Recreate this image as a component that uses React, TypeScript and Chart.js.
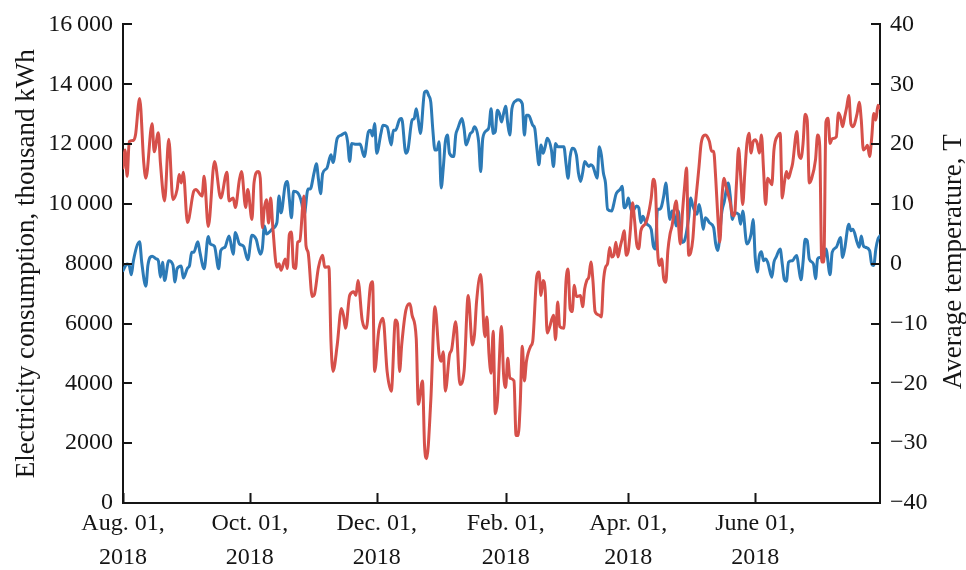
import React, { useEffect, useRef } from 'react';
import { Chart, registerables } from 'chart.js';

Chart.register(...registerables);

// x positions are days since Aug. 01, 2018
const xTickDays = [0, 61, 122, 184, 243, 304];
const xTickLabels = [
  ['Aug. 01,', '2018'],
  ['Oct. 01,', '2018'],
  ['Dec. 01,', '2018'],
  ['Feb. 01,', '2018'],
  ['Apr. 01,', '2018'],
  ['June 01,', '2018'],
];
const leftTitle = 'Electricity consumption, thousand kWh';
const rightTitle = 'Average temperature, T';

// [day, average temperature]
const temperature: [number, number][] = [
  [0, 16.0], [1, 19.0], [2, 14.6], [3, 20.4], [5, 20.6], [6, 21.5], [8, 27.6], [10, 16.8], [11, 14.3], [14, 23.4],
  [15, 18.7], [17, 21.9], [18, 16.8], [20, 10.5], [22, 20.8], [24, 10.7], [26, 12.4], [27, 14.9], [28, 13.5], [29, 15.3],
  [31, 6.9], [34, 12.1], [35, 12.4], [38, 11.3], [39, 14.6], [41, 6.2], [44, 17.1], [47, 11.0], [50, 15.3], [51, 10.5],
  [53, 11.0], [54, 9.4], [56, 14.1], [57, 15.4], [59, 9.4], [60, 12.4], [62, 7.4], [63, 13.5], [65, 15.4], [66, 14.3],
  [67, 6.0], [68, 9.4], [69, 10.7], [70, 6.8], [71, 11.0], [72, 6.3], [74, -0.6], [75, 0.0], [76, -1.1], [78, 0.8],
  [79, -0.8], [80, 4.9], [81, 5.3], [82, -0.6], [83, -0.8], [84, 3.6], [85, 3.8], [87, 11.3], [88, 3.0], [89, 1.9],
  [91, -5.5], [92, -5.2], [94, -0.6], [96, 1.4], [97, -0.6], [99, -0.5], [100, -13.0], [101, -18.0], [103, -13.6], [105, -7.5],
  [106, -8.6], [107, -10.8], [109, -5.3], [111, -4.7], [112, -5.3], [113, -2.8], [115, -9.4], [117, -10.8], [119, -3.6], [120, -3.0],
  [121, -18.0], [123, -11.1], [125, -9.1], [127, -18.0], [129, -21.3], [131, -9.4], [132, -10.0], [133, -18.0], [134, -13.6], [136, -7.8],
  [138, -6.7], [139, -8.6], [141, -12.5], [142, -23.5], [144, -19.6], [145, -30.4], [146, -32.6], [148, -22.9], [150, -7.2], [152, -15.2],
  [153, -16.3], [154, -14.7], [155, -21.3], [157, -15.2], [158, -14.4], [160, -9.7], [162, -20.2], [164, -18.0], [166, -5.3], [168, -13.6],
  [169, -11.9], [170, -6.4], [172, -1.8], [174, -12.2], [175, -8.9], [176, -15.2], [177, -18.3], [178, -11.3], [179, -25.1], [180, -23.2],
  [182, -10.5], [183, -18.5], [184, -20.7], [185, -15.8], [186, -19.1], [188, -19.6], [189, -28.7], [190, -28.7], [191, -23.5], [192, -13.8],
  [193, -19.6], [194, -16.3], [196, -13.8], [197, -13.0], [199, -2.0], [200, -1.4], [201, -5.3], [202, -2.8], [203, -4.4], [204, -11.6],
  [205, -10.8], [207, -8.6], [208, -12.7], [209, -6.4], [210, -10.5], [212, -10.8], [213, -3.0], [214, -0.9], [215, -7.5], [216, -8.0],
  [217, -3.6], [218, -5.5], [220, -5.3], [221, -7.2], [222, -4.2], [223, -2.8], [224, -2.2], [225, 0.3], [226, -3.0], [227, -8.0],
  [229, -8.6], [230, -8.9], [231, -3.0], [232, -0.6], [233, 0.0], [234, 2.7], [235, 1.1], [236, 1.4], [237, 3.6], [238, 1.1],
  [239, 2.7], [240, 4.1], [241, 5.5], [242, 1.4], [243, 2.2], [244, 5.8], [245, 10.2], [246, 7.2], [247, 3.3], [248, 2.5],
  [249, 5.5], [251, 6.6], [252, 7.4], [254, 11.0], [255, 14.1], [256, 12.7], [257, 2.5], [258, -0.3], [259, 0.8], [260, -2.5],
  [261, -3.1], [262, 2.2], [263, 4.9], [264, 6.3], [266, 10.5], [267, 6.9], [268, 3.3], [269, 8.5], [270, 12.7], [271, 16.0],
  [272, 1.4], [273, 1.9], [274, 4.1], [275, 9.1], [276, 12.7], [277, 16.3], [278, 20.1], [280, 21.5], [281, 21.2], [282, 20.4],
  [283, 18.8], [284, 18.8], [285, 14.3], [286, 8.0], [287, 3.6], [288, 11.0], [289, 14.3], [290, 12.9], [292, 10.2], [293, 8.2],
  [294, 8.0], [295, 13.5], [296, 19.3], [297, 14.6], [298, 9.9], [299, 15.2], [300, 20.1], [301, 21.8], [302, 18.5], [303, 20.4],
  [304, 20.7], [305, 20.1], [306, 18.5], [307, 21.5], [308, 15.7], [309, 9.9], [310, 14.3], [311, 13.8], [312, 13.2], [313, 19.0],
  [315, 21.5], [316, 21.8], [317, 11.0], [318, 13.5], [319, 15.4], [320, 14.3], [321, 15.4], [322, 16.8], [324, 22.1], [325, 18.2],
  [326, 17.6], [327, 20.1], [328, 25.0], [329, 24.0], [330, 13.5], [331, 14.1], [333, 17.4], [334, 21.5], [335, 19.8], [336, 0.3],
  [337, 0.3], [338, 23.7], [339, 24.3], [340, 20.1], [341, 20.9], [343, 21.2], [344, 25.2], [345, 24.5], [346, 22.9], [347, 24.5],
  [348, 26.2], [349, 28.1], [350, 23.4], [351, 22.9], [353, 25.1], [354, 27.0], [355, 24.0], [356, 19.0], [357, 19.3], [358, 19.8],
  [359, 17.9], [360, 21.0], [361, 25.1], [362, 24.0], [363, 26.5], [364, 26.0],
];

// [day, electricity consumption, thousand kWh]
const consumption: [number, number][] = [
  [0, 7770], [2, 7990], [3, 7940], [4, 7630], [5, 8100], [8, 8730], [9, 8050], [11, 7250], [12, 7960], [14, 8250],
  [16, 8160], [17, 8100], [18, 7550], [19, 8050], [20, 7440], [22, 8100], [24, 7960], [25, 7390], [26, 7830], [28, 7920],
  [29, 7520], [31, 7850], [32, 7940], [33, 8380], [34, 8380], [36, 8730], [37, 8380], [39, 7830], [41, 8910], [42, 8660],
  [44, 8580], [46, 7830], [47, 8440], [49, 8550], [51, 8930], [53, 8320], [54, 9040], [56, 8660], [58, 8580], [60, 8130],
  [62, 8950], [64, 8820], [66, 8320], [67, 8510], [68, 9260], [69, 8990], [71, 9100], [72, 9180], [74, 9370], [75, 10260],
  [76, 9700], [78, 10640], [79, 10750], [80, 10150], [81, 9540], [82, 10420], [84, 10370], [86, 10010], [87, 9590], [89, 10500],
  [90, 10500], [92, 11080], [93, 11340], [94, 10810], [95, 10340], [96, 11010], [98, 11190], [100, 11640], [101, 11380], [103, 12190],
  [105, 12300], [107, 12380], [108, 12080], [109, 11420], [110, 12020], [112, 11990], [114, 12000], [116, 11580], [118, 12410], [119, 12460],
  [120, 12270], [121, 12690], [122, 11690], [124, 12350], [125, 12630], [127, 12580], [129, 11970], [130, 12460], [131, 12460], [133, 12820],
  [134, 12850], [136, 11690], [137, 11800], [139, 12800], [140, 12850], [141, 13180], [142, 12800], [143, 12350], [145, 13730], [146, 13770],
  [147, 13620], [148, 13400], [149, 12460], [150, 11800], [151, 11800], [152, 12080], [153, 10530], [154, 11200], [155, 12080], [156, 12300],
  [157, 11690], [159, 11580], [160, 12300], [161, 12520], [163, 12850], [164, 12520], [165, 11970], [167, 12350], [168, 12410], [169, 12580],
  [171, 12080], [172, 11080], [173, 12190], [175, 12460], [176, 12580], [177, 13180], [178, 12350], [179, 12410], [180, 13130], [181, 13020],
  [182, 12740], [183, 13020], [184, 13260], [185, 12690], [186, 12300], [187, 13180], [189, 13450], [190, 13480], [192, 13350], [193, 12300],
  [194, 12960], [195, 12960], [197, 12630], [198, 12520], [199, 11860], [200, 11310], [201, 11970], [202, 11690], [203, 11910], [204, 12190],
  [206, 11800], [207, 11250], [208, 12020], [209, 11910], [211, 11910], [212, 11910], [213, 11360], [214, 10860], [215, 11580], [216, 11860],
  [218, 11640], [219, 11030], [220, 10750], [221, 11030], [222, 11420], [224, 11250], [225, 11310], [226, 11250], [228, 10860], [229, 11910],
  [230, 11640], [231, 11030], [232, 10700], [233, 9820], [235, 9760], [236, 10000], [237, 10310], [238, 10420], [239, 10480], [240, 10590],
  [241, 9870], [242, 9930], [243, 10200], [244, 9870], [245, 9760], [247, 9930], [248, 9870], [249, 9370], [250, 9590], [251, 9430],
  [252, 9320], [254, 9150], [255, 8600], [256, 8490], [257, 9820], [258, 9820], [259, 9930], [260, 10260], [261, 10700], [262, 10040],
  [263, 9480], [264, 9760], [265, 9650], [266, 9260], [267, 9760], [268, 9040], [269, 8710], [270, 8770], [272, 9540], [273, 10200],
  [274, 9930], [276, 9650], [277, 9980], [278, 9650], [279, 9150], [280, 9540], [281, 9480], [282, 9370], [284, 9210], [285, 8660],
  [286, 8440], [288, 9760], [289, 10040], [291, 10700], [292, 10260], [293, 9480], [294, 9700], [296, 9650], [297, 9320], [298, 9760],
  [300, 8660], [302, 8990], [303, 9480], [304, 8200], [305, 7720], [306, 8270], [307, 8400], [308, 8100], [309, 8160], [310, 8050],
  [312, 7550], [313, 8050], [314, 8210], [316, 8490], [317, 7990], [318, 7470], [319, 7410], [320, 8050], [322, 8100], [323, 8210],
  [324, 8270], [325, 7830], [326, 7460], [327, 8050], [328, 8820], [329, 8770], [330, 8160], [332, 7990], [333, 7500], [334, 8160],
  [335, 8210], [337, 8210], [338, 8490], [340, 7630], [341, 8380], [343, 8550], [345, 8880], [346, 8210], [347, 8490], [349, 9320],
  [350, 9100], [351, 9150], [353, 8710], [354, 8550], [355, 8930], [356, 8600], [357, 8550], [359, 8440], [360, 7990], [361, 7940],
  [362, 8490], [363, 8820], [364, 8930],
];

const FONT = "'Liberation Serif', 'Times New Roman', serif";
const INK = '#151515';
const RED = 'rgb(214, 80, 74)';
const BLUE = 'rgb(44, 122, 182)';

const frame = {
  id: 'paperFrame',
  afterDraw(chart: any) {
    const { ctx, chartArea, scales } = chart;
    const { left, right, top, bottom } = chartArea;
    ctx.save();
    ctx.strokeStyle = INK;
    ctx.lineWidth = 2;
    ctx.beginPath();
    scales.x.ticks.forEach((t: any) => {
      const px = Math.round(scales.x.getPixelForValue(t.value)) + 0.5;
      ctx.moveTo(px, bottom);
      ctx.lineTo(px, bottom - 10);
    });
    scales.y.ticks.forEach((t: any) => {
      const py = Math.round(scales.y.getPixelForValue(t.value));
      ctx.moveTo(left, py);
      ctx.lineTo(left + 9, py);
    });
    scales.y1.ticks.forEach((t: any) => {
      const py = Math.round(scales.y1.getPixelForValue(t.value));
      ctx.moveTo(right - 9, py);
      ctx.lineTo(right, py);
    });
    ctx.stroke();

    ctx.fillStyle = INK;
    ctx.font = `27px ${FONT}`;
    ctx.textAlign = 'center';
    ctx.textBaseline = 'middle';
    ctx.translate(chart.width - 12, (top + bottom) / 2 - 2);
    ctx.rotate(-Math.PI / 2);
    ctx.fillText(rightTitle, 0, 0);
    ctx.restore();
  },
};

export default function App() {
  const ref = useRef<HTMLCanvasElement | null>(null);

  useEffect(() => {
    if (!ref.current) return;
    const tickFont = { family: FONT, size: 24 };
    const lineStyle = {
      borderWidth: 3,
      pointRadius: 0,
      cubicInterpolationMode: 'monotone' as const,
      borderJoinStyle: 'round' as const,
      borderCapStyle: 'round' as const,
      fill: false,
    };
    const chart = new Chart(ref.current, {
      type: 'line',
      data: {
        datasets: [
          {
            label: 'Average temperature',
            data: temperature.map(([d, v]) => ({ x: d, y: v })),
            yAxisID: 'y1',
            borderColor: RED,
            ...lineStyle,
          },
          {
            label: 'Electricity consumption',
            data: consumption.map(([d, v]) => ({ x: d, y: v })),
            yAxisID: 'y',
            borderColor: BLUE,
            ...lineStyle,
          },
        ],
      },
      options: {
        animation: false,
        responsive: true,
        maintainAspectRatio: false,
        layout: { padding: { top: 20, right: 0, bottom: 0, left: 0 } },
        plugins: { legend: { display: false }, tooltip: { enabled: false } },
        scales: {
          x: {
            type: 'linear',
            min: 0,
            max: 364,
            afterBuildTicks: (s: any) => {
              s.ticks = xTickDays.map((v) => ({ value: v }));
            },
            afterFit: (s: any) => {
              s.height = 67;
            },
            ticks: {
              autoSkip: false,
              maxRotation: 0,
              padding: 4,
              color: INK,
              font: { ...tickFont, lineHeight: 1.4 },
              callback: (v: any) => {
                const i = xTickDays.indexOf(Number(v));
                return i >= 0 ? xTickLabels[i] : '';
              },
            },
            grid: { display: true, drawOnChartArea: false, drawTicks: false },
            border: { display: true, color: INK, width: 2 },
          },
          y: {
            position: 'left',
            min: 0,
            max: 16000,
            afterFit: (s: any) => {
              s.width = 123;
            },
            ticks: {
              stepSize: 2000,
              padding: 10,
              color: INK,
              font: tickFont,
              callback: (v: any) => {
                const n = Number(v);
                return n >= 10000 ? `${Math.floor(n / 1000)}\u2009${String(n % 1000).padStart(3, '0')}` : String(n);
              },
            },
            title: {
              display: true,
              text: leftTitle,
              color: INK,
              font: { family: FONT, size: 27, lineHeight: 1.2 },
              padding: { top: 11, bottom: 0 },
            },
            grid: { display: true, drawOnChartArea: false, drawTicks: false },
            border: { display: true, color: INK, width: 2 },
          },
          y1: {
            position: 'right',
            min: -40,
            max: 40,
            afterFit: (s: any) => {
              s.width = 86;
            },
            ticks: {
              stepSize: 10,
              padding: 10,
              color: INK,
              font: tickFont,
              callback: (v: any) => {
                const n = Number(v);
                return n < 0 ? `\u2212${Math.abs(n)}` : String(n);
              },
            },
            grid: { display: true, drawOnChartArea: false, drawTicks: false },
            border: { display: true, color: INK, width: 2 },
          },
        },
      },
      plugins: [frame],
    });
    return () => chart.destroy();
  }, []);

  return (
    <div style={{ position: 'absolute', left: 0, top: 0, width: 966, height: 570, background: '#fff' }}>
      <canvas ref={ref} />
    </div>
  );
}
